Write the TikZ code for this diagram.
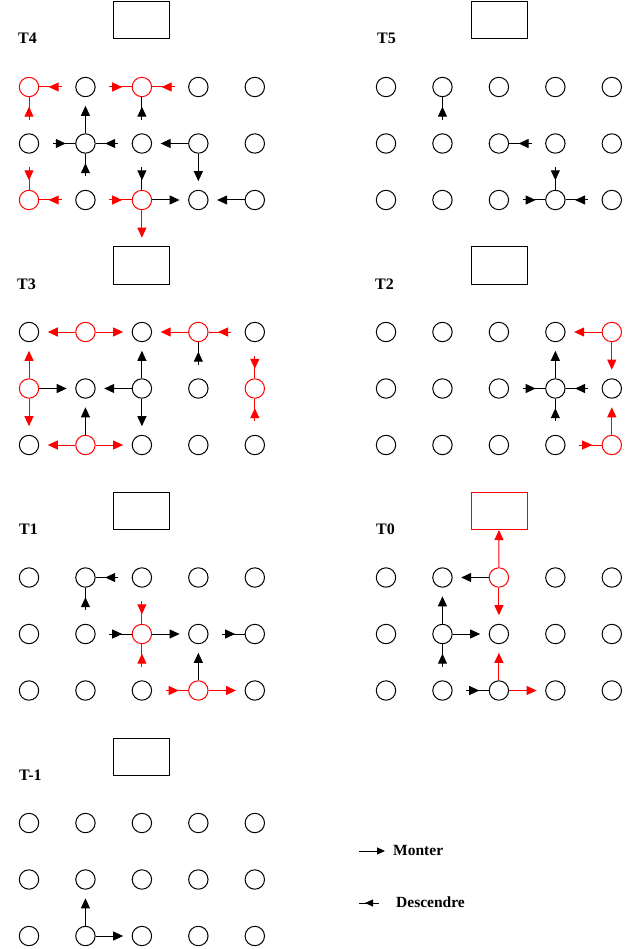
\documentclass[tikz,border=0pt]{standalone}
\usepackage{fontspec}
\setmainfont{Liberation Serif}
\usetikzlibrary{arrows.meta,calc}

\tikzset{
  dot/.style={circle,draw,minimum size=19.4pt,inner sep=0pt,line width=1pt},
  bx/.style={draw,minimum width=56pt,minimum height=37pt,inner sep=0pt,line width=1pt},
  lbl/.style={font=\fontsize{16}{16}\selectfont\bfseries,anchor=base west,inner sep=0pt},
  legtxt/.style={font=\fontsize{15.5}{16}\selectfont\bfseries,anchor=base west,inner sep=0pt},
  ln/.style={line width=1pt},
  tip/.style={-{Triangle[length=10pt,width=9pt]}},
}

% mark a circle as red
\newcommand\setred[1]{\expandafter\def\csname red@#1\endcsname{}}
% grid of 5x3 circles: prefix, x0, y0
\newcommand\grid[3]{%
  \foreach \c in {1,...,5}{\foreach \r in {1,2,3}{%
    \ifcsname red@#1-\c-\r\endcsname\def\col{red}\else\def\col{black}\fi
    \node[dot,draw=\col] (#1-\c-\r) at ({#2+56.45*(\c-1)},{#3+56.5*(\r-1)}) {};
  }}}
% outgoing arrow: colour, node, anchor, direction
\newcommand\arrOut[4]{\draw[ln,#1,tip] (#2.#3) -- ($(#2.#3)+27.5*(#4)$);}
% incoming arrow (head pointing to the circle, short tail)
\newcommand\arrIn[4]{%
  \draw[ln,#1] (#2.#3) -- ($(#2.#3)+22.5*(#4)$);
  \draw[ln,#1,tip] ($(#2.#3)+19.5*(#4)$) -- ($(#2.#3)+9.5*(#4)$);}

\setred{p4-1-1}\setred{p4-3-1}\setred{p4-1-3}\setred{p4-3-3}
\setred{p3-2-1}\setred{p3-4-1}\setred{p3-1-2}\setred{p3-5-2}\setred{p3-2-3}
\setred{p2-5-1}\setred{p2-5-3}
\setred{p1-3-2}\setred{p1-4-3}
\setred{p0-3-1}

\begin{document}
\begin{tikzpicture}[x=1pt,y=-1pt]
\fill[white] (0,0) rectangle (641,949);
\useasboundingbox (0,0) rectangle (641,949);

% ---------- panels ----------
\grid{p4}{29}{87}
\grid{p5}{386}{87}
\grid{p3}{29}{332}
\grid{p2}{386}{332}
\grid{p1}{29}{577.5}
\grid{p0}{386}{577.5}
\grid{pm}{29}{823}

\node[bx] (p4-box) at (141,20.5) {};
\node[bx] (p5-box) at (499,20.5) {};
\node[bx] (p3-box) at (141,265.5) {};
\node[bx] (p2-box) at (499,265.5) {};
\node[bx] (p1-box) at (141,511) {};
\node[bx,draw=red] (p0-box) at (499,511) {};
\node[bx] (pm-box) at (141,756.5) {};

\node[lbl] (p4-lbl) at (18,44) {T4};
\node[lbl] (p5-lbl) at (377,44) {T5};
\node[lbl] (p3-lbl) at (17,289) {T3};
\node[lbl] (p2-lbl) at (375,289) {T2};
\node[lbl] (p1-lbl) at (19,534.5) {T1};
\node[lbl] (p0-lbl) at (376,534.5) {T0};
\node[lbl] (pm-lbl) at (19,780) {T-1};

% ---------- T4 ----------
\arrIn{red}{p4-1-1}{east}{1,0}
\arrIn{red}{p4-1-1}{south}{0,1}
\arrIn{red}{p4-3-1}{west}{-1,0}
\arrIn{red}{p4-3-1}{east}{1,0}
\arrIn{black}{p4-3-1}{south}{0,1}
\arrOut{black}{p4-2-2}{north}{0,-1}
\arrIn{black}{p4-2-2}{west}{-1,0}
\arrIn{black}{p4-2-2}{east}{1,0}
\arrIn{black}{p4-2-2}{south}{0,1}
\arrOut{black}{p4-4-2}{west}{-1,0}
\arrOut{black}{p4-4-2}{south}{0,1}
\arrIn{red}{p4-1-3}{north}{0,-1}
\arrIn{red}{p4-1-3}{east}{1,0}
\arrIn{red}{p4-3-3}{west}{-1,0}
\arrIn{black}{p4-3-3}{north}{0,-1}
\arrOut{black}{p4-3-3}{east}{1,0}
\arrOut{red}{p4-3-3}{south}{0,1}
\arrOut{black}{p4-5-3}{west}{-1,0}

% ---------- T5 ----------
\arrIn{black}{p5-2-1}{south}{0,1}
\arrIn{black}{p5-3-2}{east}{1,0}
\arrIn{black}{p5-4-3}{north}{0,-1}
\arrIn{black}{p5-4-3}{west}{-1,0}
\arrIn{black}{p5-4-3}{east}{1,0}

% ---------- T3 ----------
\arrOut{red}{p3-2-1}{west}{-1,0}
\arrOut{red}{p3-2-1}{east}{1,0}
\arrOut{red}{p3-4-1}{west}{-1,0}
\arrIn{red}{p3-4-1}{east}{1,0}
\arrIn{black}{p3-4-1}{south}{0,1}
\arrOut{red}{p3-1-2}{north}{0,-1}
\arrOut{red}{p3-1-2}{south}{0,1}
\arrOut{black}{p3-1-2}{east}{1,0}
\arrOut{black}{p3-3-2}{west}{-1,0}
\arrOut{black}{p3-3-2}{north}{0,-1}
\arrOut{black}{p3-3-2}{south}{0,1}
\arrOut{black}{p3-2-3}{north}{0,-1}
\arrOut{red}{p3-2-3}{west}{-1,0}
\arrOut{red}{p3-2-3}{east}{1,0}
\arrIn{red}{p3-5-2}{north}{0,-1}
\arrIn{red}{p3-5-2}{south}{0,1}

% ---------- T2 ----------
\arrOut{red}{p2-5-1}{west}{-1,0}
\arrOut{red}{p2-5-1}{south}{0,1}
\arrOut{black}{p2-4-2}{north}{0,-1}
\arrIn{black}{p2-4-2}{west}{-1,0}
\arrIn{black}{p2-4-2}{east}{1,0}
\arrIn{black}{p2-4-2}{south}{0,1}
\arrOut{red}{p2-5-3}{north}{0,-1}
\arrIn{red}{p2-5-3}{west}{-1,0}

% ---------- T1 ----------
\arrIn{black}{p1-2-1}{east}{1,0}
\arrIn{black}{p1-2-1}{south}{0,1}
\arrIn{red}{p1-3-2}{north}{0,-1}
\arrIn{red}{p1-3-2}{south}{0,1}
\arrIn{black}{p1-3-2}{west}{-1,0}
\arrOut{black}{p1-3-2}{east}{1,0}
\arrIn{black}{p1-5-2}{west}{-1,0}
\arrIn{red}{p1-4-3}{west}{-1,0}
\arrOut{red}{p1-4-3}{east}{1,0}
\arrOut{black}{p1-4-3}{north}{0,-1}

% ---------- T0 ----------
\draw[ln,red,tip] (p0-3-1.north) -- (p0-box.south);
\arrOut{black}{p0-3-1}{west}{-1,0}
\arrOut{red}{p0-3-1}{south}{0,1}
\arrOut{black}{p0-2-2}{north}{0,-1}
\arrOut{black}{p0-2-2}{east}{1,0}
\arrIn{black}{p0-2-2}{south}{0,1}
\arrOut{red}{p0-3-3}{north}{0,-1}
\arrOut{red}{p0-3-3}{east}{1,0}
\arrIn{black}{p0-3-3}{west}{-1,0}

% ---------- T-1 ----------
\arrOut{black}{pm-2-3}{north}{0,-1}
\arrOut{black}{pm-2-3}{east}{1,0}

% ---------- legend ----------
\coordinate (m1) at (359,851);
\coordinate (m2) at (385,851);
\draw[ln,-{Triangle[length=8pt,width=7pt]}] (m1) -- (m2);
\node[legtxt] (mtxt) at (393,855) {Monter};
\coordinate (d1) at (359,903);
\coordinate (d2) at (379,903);
\coordinate (dh) at (373,903);
\coordinate (dt) at (365,903);
\draw[ln] (d1) -- (d2);
\draw[ln,-{Triangle[length=8pt,width=7pt]}] (dh) -- (dt);
\node[legtxt] (dtxt) at (396,907) {Descendre};
\end{tikzpicture}
\end{document}
